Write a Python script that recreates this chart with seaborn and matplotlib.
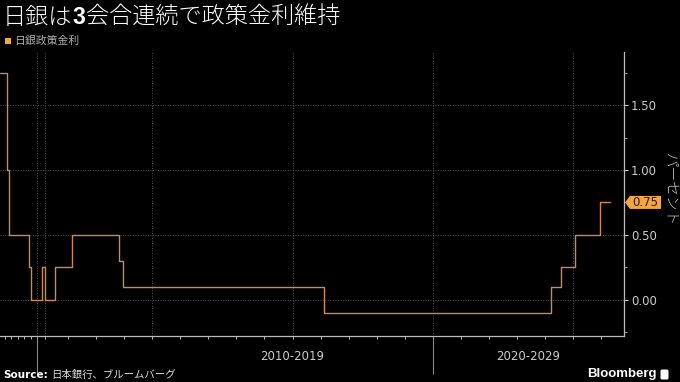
import numpy as np
import pandas as pd
import matplotlib
matplotlib.use("Agg")
import matplotlib.pyplot as plt
from matplotlib.patches import Polygon, Rectangle, FancyBboxPatch
import seaborn as sns

# ---------------- data ----------------
change_dates = ["1994-03-15", "1995-04-14", "1995-09-08", "1998-09-09", "1999-02-12",
                "2000-08-11", "2001-03-19", "2006-07-14", "2007-02-21", "2008-10-31",
                "2008-12-19", "2016-02-16", "2024-03-19", "2024-07-31", "2025-01-24",
                "2025-12-19", "2026-04-30"]
policy_rate = [1.75, 1.00, 0.50, 0.25, 0.00, 0.25, 0.00, 0.25, 0.50, 0.30,
               0.10, -0.10, 0.10, 0.25, 0.50, 0.75, 0.75]
series_name = "日銀政策金利"
decade_labels = ["2010-2019", "2020-2029"]
decade_bounds = [(2010, 2020), (2020, 2030)]
y_major = [0.0, 0.5, 1.0, 1.5]
y_minor = [-0.25, 0.25, 0.75, 1.25, 1.75]
title_parts = [("日銀は", "normal"), ("3", "bold"), ("会合連続で政策金利維持", "normal")]
source_text = "日本銀行、ブルームバーグ"
y_unit = "パーセント"

# ---------------- helpers ----------------
def dec_year(s):
    d = pd.Timestamp(s)
    start = pd.Timestamp(year=d.year, month=1, day=1)
    end = pd.Timestamp(year=d.year + 1, month=1, day=1)
    return d.year + (d - start).days / (end - start).days

df = pd.DataFrame({"year": [dec_year(s) for s in change_dates], "rate": policy_rate})

# Bloomberg-style axis that compresses sparse early periods
anchor_years = np.array([1994.2, 2000.0, 2001.0, 2006.5, 2030.0])
anchor_pos = np.array([0.0, 37.0, 44.5, 54.0, 54.0 + 23.5 * 28.06])
fwd = lambda x: np.interp(x, anchor_years, anchor_pos)
inv = lambda p: np.interp(p, anchor_pos, anchor_years)
x_right = float(inv(624.0))

# ---------------- figure ----------------
sns.set_theme(style="dark")
plt.rcParams["font.family"] = ["Noto Sans CJK JP", "DejaVu Sans"]
W, H = 680, 382
fig = plt.figure(figsize=(W / 100, H / 100), dpi=100, facecolor="black")
ax = fig.add_axes([0 / W, (H - 336) / H, 624 / W, (336 - 52) / H])
ax.set_facecolor("black")

line_color = "#d08a48"
sns.lineplot(data=df, x="year", y="rate", ax=ax, drawstyle="steps-post",
             color=line_color, linewidth=1.0, errorbar=None, legend=False)

ax.set_xscale("function", functions=(fwd, inv))
ax.set_xlim(df["year"].iloc[0], x_right)
ax.set_ylim(-0.28, 1.91)
ax.set_xlabel("")
ax.set_ylabel("")

# spines
for s in ["top", "left"]:
    ax.spines[s].set_visible(False)
for s in ["right", "bottom"]:
    ax.spines[s].set_visible(True)
    ax.spines[s].set_color("#bbbbbb")
    ax.spines[s].set_linewidth(0.9)

# y axis on right
ax.yaxis.tick_right()
ax.set_yticks(y_major)
ax.set_yticklabels([f"{v:.2f}" for v in y_major])
ax.set_yticks(y_minor, minor=True)
ax.tick_params(axis="y", which="both", right=True, left=False)
ax.tick_params(axis="y", which="major", colors="#cccccc", labelsize=8.5, length=3,
               width=0.8, pad=2, direction="out", labelcolor="#cccccc")
ax.tick_params(axis="y", which="minor", colors="#bbbbbb", length=2, width=0.6, direction="out")
for lab in ax.get_yticklabels():
    lab.set_family(["DejaVu Sans"])

# x ticks: tall decade separators and short yearly ticks
ax.set_xticks([2000, 2020])
ax.set_xticklabels([])
minor_years = list(range(1995, 2002)) + list(range(2007, 2027))
minor_years = [y for y in minor_years if y not in (2000, 2020)]
ax.set_xticks(minor_years, minor=True)
ax.tick_params(axis="x", which="both", bottom=True, top=False, labelbottom=False)
ax.tick_params(axis="x", which="major", length=27, width=0.8, colors="#888888", direction="out")
ax.tick_params(axis="x", which="minor", length=2.5, width=0.7, colors="#bbbbbb", direction="out")

# grid
ax.grid(False)
for v in y_major:
    ax.axhline(v, color="#666666", lw=0.6, ls=(0, (1, 2)), zorder=0)
for yv in [2000, 2001, 2010, 2015, 2020, 2025]:
    ax.axvline(yv, color="#666666", lw=0.6, ls=(0, (1, 2)), zorder=0)

# decade labels centred on visible part of each decade
fig.canvas.draw()
renderer = fig.canvas.get_renderer()
for lab, (a, b) in zip(decade_labels, decade_bounds):
    b = min(b, x_right)
    xa = ax.transData.transform((a, 0))[0]
    xb = ax.transData.transform((b, 0))[0]
    fig.text((xa + xb) / 2 / W, 1 - 357 / H, lab, color="#cccccc", fontsize=8.5,
             ha="center", va="center", family=["DejaVu Sans"])

# last value tag
last = policy_rate[-1]
px, py = ax.transData.transform((x_right, last))
tag = Polygon([[px + 1, py], [px + 6, py + 6.5], [px + 37, py + 6.5],
               [px + 37, py - 6.5], [px + 6, py - 6.5]], closed=True,
              transform=None, facecolor="#f4a63f", edgecolor="none")
fig.patches.append(tag)
fig.text((px + 8) / W, py / H, f"{last:.2f}", color="#2a1a00", fontsize=8.5,
         ha="left", va="center", family=["DejaVu Sans"])

# y unit label
fig.text(670 / W, 1 - 190 / H, y_unit, rotation=-90, color="#cccccc", fontsize=10.5,
         fontweight="light", ha="center", va="center")

# title with bold numeral
x = 3
for s, w in title_parts:
    fam = ["Liberation Sans", "DejaVu Sans"] if w == "bold" else ["Noto Sans CJK JP", "DejaVu Sans"]
    t = fig.text(x / W, 1 - 17 / H, s, fontsize=16.7, color="white",
                 fontweight=("bold" if w == "bold" else "light"),
                 family=fam, ha="left", va="center")
    x += t.get_window_extent(renderer).width + (1 if w == "bold" else 0)

# legend
fig.patches.append(Rectangle((5, H - 44), 6, 6, transform=None, facecolor="#f4a63f",
                             edgecolor="none"))
fig.text(14 / W, 1 - 41 / H, series_name, color="#b0b0b0", fontsize=7.8,
         ha="left", va="center")

# source & brand
t = fig.text(3 / W, 1 - 375 / H, "Source:", color="white", fontsize=7.5, fontweight="bold",
             family=["DejaVu Sans"], ha="left", va="center")
sx = 3 + t.get_window_extent(renderer).width + 3
fig.text(sx / W, 1 - 375 / H, source_text, color="#dddddd", fontsize=7.5,
         ha="left", va="center")
fig.text(657 / W, 1 - 374 / H, "Bloomberg", color="white", fontsize=9.5, fontweight="bold",
         family=["Liberation Sans", "DejaVu Sans"], ha="right", va="center")
fig.patches.append(FancyBboxPatch((661, H - 379), 7, 9, boxstyle="round,pad=0.5,rounding_size=1.5",
                                  transform=None, facecolor="white", edgecolor="none"))

fig.savefig("out.png", dpi=100, facecolor="black")
